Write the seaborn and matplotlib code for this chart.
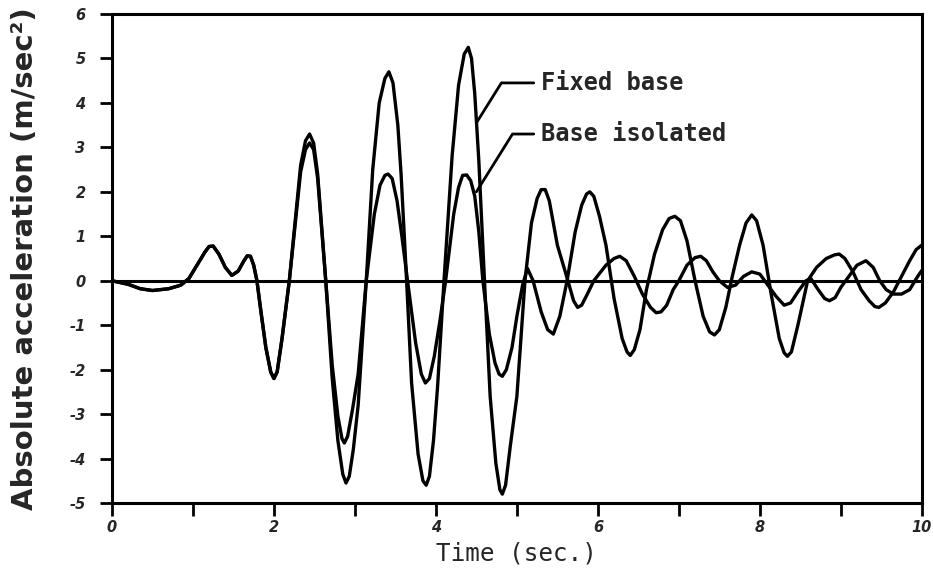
import numpy as np
import pandas as pd
import matplotlib
matplotlib.use("Agg")
import matplotlib.pyplot as plt
import seaborn as sns

# ---- data (time in s, acceleration in m/s^2) ----
fixed_t = [0.0, 0.2, 0.35, 0.5, 0.7, 0.85, 0.95, 1.05, 1.15, 1.2, 1.25, 1.32, 1.4, 1.48,
           1.56, 1.63, 1.67, 1.71, 1.75, 1.79, 1.84, 1.9, 1.96, 2.0, 2.04, 2.1, 2.19, 2.27,
           2.33, 2.39, 2.44, 2.49, 2.54, 2.64, 2.72, 2.79, 2.85, 2.89, 2.93, 2.98, 3.04,
           3.14, 3.22, 3.3, 3.37, 3.42, 3.47, 3.53, 3.57, 3.63, 3.7, 3.78, 3.84, 3.88,
           3.92, 3.97, 4.02, 4.1, 4.2, 4.28, 4.35, 4.4, 4.44, 4.48, 4.53, 4.6, 4.67,
           4.74, 4.79, 4.82, 4.86, 4.92, 5.0, 5.1, 5.18, 5.25, 5.3, 5.35, 5.4, 5.5,
           5.63, 5.7, 5.75, 5.8, 5.87, 5.95, 6.1, 6.2, 6.27, 6.35, 6.45, 6.55, 6.65,
           6.72, 6.78, 6.85, 6.93, 7.0, 7.1, 7.2, 7.27, 7.34, 7.42, 7.5, 7.6, 7.7, 7.8,
           7.9, 8.0, 8.1, 8.2, 8.3, 8.38, 8.47, 8.57, 8.63, 8.72, 8.8, 8.86, 8.93, 9.0,
           9.1, 9.2, 9.31, 9.4, 9.48, 9.56, 9.65, 9.75, 9.85, 9.95, 10.0]
fixed_a = [0.0, -0.08, -0.18, -0.22, -0.18, -0.1, 0.05, 0.35, 0.65, 0.77, 0.78, 0.6, 0.3, 0.12,
           0.22, 0.45, 0.56, 0.55, 0.35, 0.0, -0.7, -1.5, -2.05, -2.2, -2.05, -1.3, 0.0, 1.5,
           2.6, 3.15, 3.3, 3.1, 2.4, 0.0, -2.2, -3.6, -4.35, -4.55, -4.4, -3.8, -2.8,
           0.0, 2.5, 4.0, 4.55, 4.7, 4.45, 3.5, 2.4, 0.3, -2.3, -3.9, -4.5, -4.6,
           -4.4, -3.6, -2.4, 0.0, 2.8, 4.4, 5.1, 5.25, 5.0, 4.2, 2.7, 0.0, -2.6,
           -4.1, -4.7, -4.8, -4.6, -3.7, -2.6, 0.0, 1.3, 1.85, 2.05, 2.05, 1.8, 0.8,
           0.0, -0.45, -0.6, -0.55, -0.3, 0.0, 0.35, 0.5, 0.55, 0.45, 0.1, -0.3, -0.6,
           -0.72, -0.7, -0.55, -0.2, 0.0, 0.35, 0.52, 0.55, 0.45, 0.2, 0.0, -0.15, -0.1, 0.1,
           0.2, 0.15, -0.1, -0.35, -0.55, -0.5, -0.25, 0.0, 0.05, -0.2, -0.4, -0.45, -0.38, -0.15,
           0.1, 0.35, 0.45, 0.3, 0.0, -0.2, -0.3, -0.3, -0.2, 0.1, 0.23]

iso_t = [0.0, 0.2, 0.35, 0.5, 0.7, 0.85, 0.95, 1.05, 1.15, 1.2, 1.25, 1.32, 1.4, 1.48,
         1.56, 1.63, 1.67, 1.71, 1.75, 1.79, 1.84, 1.9, 1.96, 2.0, 2.04, 2.1, 2.19, 2.27,
         2.33, 2.39, 2.44, 2.49, 2.54, 2.64, 2.72, 2.79, 2.84, 2.87, 2.91, 2.97, 3.04,
         3.14, 3.24, 3.31, 3.37, 3.41, 3.46, 3.52, 3.58, 3.65, 3.75, 3.82, 3.87, 3.92,
         3.98, 4.05, 4.12, 4.22, 4.28, 4.33, 4.38, 4.43, 4.48, 4.53, 4.58, 4.66, 4.73,
         4.78, 4.82, 4.87, 4.94, 5.0, 5.07, 5.13, 5.2, 5.3, 5.38, 5.45, 5.53, 5.62,
         5.72, 5.8, 5.86, 5.9, 5.95, 6.02, 6.1, 6.2, 6.3, 6.36, 6.4, 6.45, 6.52, 6.6,
         6.7, 6.8, 6.88, 6.95, 7.02, 7.1, 7.2, 7.3, 7.38, 7.44, 7.5, 7.58, 7.66, 7.75,
         7.83, 7.9, 7.96, 8.04, 8.14, 8.24, 8.3, 8.34, 8.39, 8.47, 8.59, 8.7, 8.82, 8.92,
         8.98, 9.05, 9.15, 9.25, 9.35, 9.42, 9.47, 9.55, 9.65, 9.75, 9.85, 9.93, 10.0]
iso_a = [0.0, -0.08, -0.18, -0.22, -0.18, -0.1, 0.05, 0.35, 0.65, 0.77, 0.78, 0.6, 0.3, 0.12,
         0.22, 0.45, 0.56, 0.55, 0.35, 0.0, -0.7, -1.5, -2.05, -2.2, -2.05, -1.3, 0.0, 1.4,
         2.45, 2.95, 3.1, 2.95, 2.3, 0.0, -1.9, -3.05, -3.55, -3.65, -3.5, -2.9, -2.1,
         0.0, 1.5, 2.15, 2.37, 2.4, 2.3, 1.8, 1.0, 0.0, -1.4, -2.1, -2.3, -2.2,
         -1.7, -0.9, 0.0, 1.5, 2.1, 2.37, 2.38, 2.25, 1.9, 1.1, 0.0, -1.2, -1.85,
         -2.1, -2.15, -2.0, -1.5, -0.8, -0.1, 0.28, 0.0, -0.7, -1.1, -1.2, -0.8, 0.0,
         1.1, 1.7, 1.95, 2.0, 1.9, 1.45, 0.8, -0.4, -1.3, -1.6, -1.68, -1.55, -1.1, -0.2,
         0.6, 1.15, 1.4, 1.45, 1.35, 0.9, 0.0, -0.8, -1.15, -1.22, -1.1, -0.6, 0.1, 0.8,
         1.3, 1.48, 1.35, 0.8, -0.3, -1.3, -1.62, -1.7, -1.6, -1.0, 0.0, 0.3, 0.5, 0.58,
         0.6, 0.5, 0.2, -0.2, -0.45, -0.58, -0.6, -0.5, -0.25, 0.1, 0.45, 0.7, 0.8]

x_ticks = [0, 2, 4, 6, 8, 10]
x_minor = [1, 3, 5, 7, 9]
y_ticks = [6, 5, 4, 3, 2, 1, 0, -1, -2, -3, -4, -5]
x_label = "Time (sec.)"
y_label = "Absolute acceleration (m/sec²)"
series_names = ["Fixed base", "Base isolated"]

df = pd.concat([
    pd.DataFrame({"t": fixed_t, "a": fixed_a, "case": series_names[0]}),
    pd.DataFrame({"t": iso_t, "a": iso_a, "case": series_names[1]}),
], ignore_index=True)

sns.set_style("ticks")
fig = plt.figure(figsize=(9.33, 5.76), dpi=100)
ax = fig.add_axes([0.12, 0.1267, 0.868, 0.849])

sns.lineplot(data=df, x="t", y="a", units="case", estimator=None, sort=False,
             color="black", linewidth=2.4, legend=False, ax=ax)
for ln in ax.get_lines():
    ln.set_solid_joinstyle("round")
ax.axhline(0, color="black", linewidth=2.2, zorder=1)

ax.set_xlim(0, 10)
ax.set_ylim(-5, 6)
ax.set_xticks(x_ticks)
ax.set_xticks(x_minor, minor=True)
ax.set_yticks(y_ticks)
ax.set_xticklabels([str(v) for v in x_ticks])
ax.set_yticklabels([str(v) for v in y_ticks])

for s in ax.spines.values():
    s.set_linewidth(2.2)
    s.set_color("black")
ax.tick_params(axis="both", which="both", direction="out", length=9, width=2.0,
               color="black")
ax.tick_params(axis="y", pad=10)
ax.tick_params(axis="x", pad=3)
for lab in ax.get_xticklabels() + ax.get_yticklabels():
    lab.set_fontfamily("DejaVu Sans")
    lab.set_fontweight("bold")
    lab.set_fontstyle("italic")
    lab.set_fontsize(10.5)

ax.set_xlabel(x_label, fontfamily="DejaVu Sans Mono", fontsize=17.5, labelpad=5)
ax.set_ylabel(y_label, fontfamily="DejaVu Sans", fontweight="bold", fontsize=21,
              labelpad=22)

ann_kw = dict(fontfamily="DejaVu Sans Mono", fontweight="bold", fontsize=17,
              ha="left", va="center", xycoords="data", textcoords="data")
ax.annotate(series_names[0], xy=(4.5, 3.55), xytext=(5.3, 4.45),
            arrowprops=dict(arrowstyle="-", color="black", lw=2.0,
                            connectionstyle="angle,angleA=0,angleB=58,rad=0",
                            shrinkA=3, shrinkB=0), **ann_kw)
ax.annotate(series_names[1], xy=(4.5, 2.0), xytext=(5.3, 3.3),
            arrowprops=dict(arrowstyle="-", color="black", lw=2.0,
                            connectionstyle="angle,angleA=0,angleB=58,rad=0",
                            shrinkA=3, shrinkB=0), **ann_kw)

fig.savefig("out.png", dpi=100)
